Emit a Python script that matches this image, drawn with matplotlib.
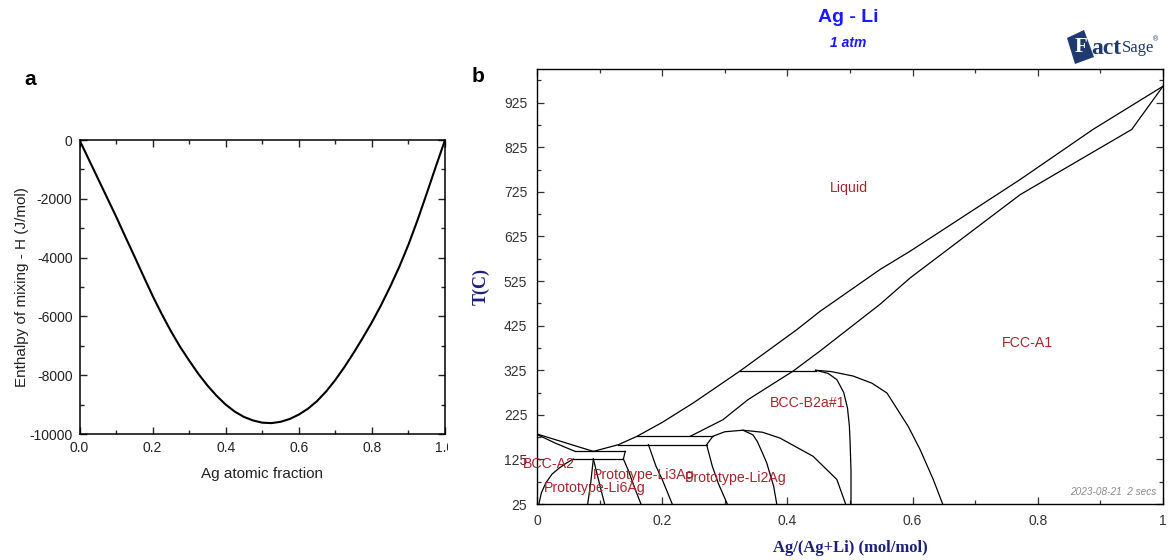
import matplotlib
matplotlib.use("Agg")
import matplotlib.pyplot as plt
from matplotlib.ticker import MultipleLocator, FixedLocator
from matplotlib.patches import Polygon
from matplotlib.transforms import Bbox, TransformedBbox

plt.rcParams['font.family'] = ['Liberation Sans', 'DejaVu Sans']
plt.rcParams['axes.unicode_minus'] = False

# ---------------- panel a : enthalpy of mixing ----------------
h_x = [0.0, 0.025, 0.05, 0.075, 0.10, 0.125, 0.15, 0.175, 0.20, 0.225, 0.25, 0.275,
       0.30, 0.325, 0.35, 0.375, 0.40, 0.425, 0.45, 0.475, 0.50, 0.525, 0.55, 0.575,
       0.60, 0.625, 0.65, 0.675, 0.70, 0.725, 0.75, 0.775, 0.80, 0.825, 0.85, 0.875,
       0.90, 0.925, 0.95, 0.975, 1.0]
h_y = [0, -650, -1300, -1950, -2600, -3280, -3950, -4630, -5300, -5920, -6500, -7030,
       -7500, -7950, -8350, -8700, -9000, -9240, -9420, -9540, -9615, -9630, -9585, -9490,
       -9340, -9140, -8880, -8550, -8160, -7720, -7240, -6730, -6200, -5620, -4990, -4310,
       -3560, -2720, -1820, -900, 0]

# ---------------- panel b : Ag-Li phase diagram ----------------
liq_li_x = [0.0, 0.03, 0.06, 0.09]
liq_li_T = [182, 169, 156, 143]
bcc_sol_x = [0.0, 0.03, 0.061]
bcc_sol_T = [181, 161, 143]
bcc_solv_x = [0.058, 0.046, 0.034, 0.024, 0.014, 0.007, 0.003]
bcc_solv_T = [126, 116, 104, 92, 72, 50, 25]
liq_x = [0.09, 0.13, 0.16, 0.20, 0.25, 0.324, 0.415, 0.452, 0.548, 0.596, 0.772, 0.888, 1.0]
liq_T = [143, 158, 177, 208, 252, 323, 416, 457, 551, 592, 753, 865, 962]
sol_x = [0.245, 0.297, 0.337, 0.409, 0.452, 0.548, 0.596, 0.772, 0.878, 0.95, 1.0]
sol_T = [177, 214, 259, 323, 368, 473, 532, 719, 806, 865, 962]
inv_x0 = [0.061, 0.058, 0.13, 0.16, 0.324]
inv_x1 = [0.141, 0.138, 0.271, 0.281, 0.445]
inv_T = [143, 126, 158, 177, 323]
conn_x = [0.141, 0.138]
conn_T = [143, 126]
li6_l_x = [0.09, 0.086, 0.081]
li6_l_T = [126, 75, 25]
li6_r_x = [0.09, 0.099, 0.108]
li6_r_T = [126, 75, 25]
li3_l_x = [0.138, 0.146, 0.155, 0.166]
li3_l_T = [126, 100, 65, 25]
li3_r_x = [0.178, 0.19, 0.20, 0.216]
li3_r_T = [158, 110, 80, 25]
li2_l_x = [0.271, 0.28, 0.29, 0.304]
li2_l_T = [158, 110, 70, 25]
li2_out_x = [0.271, 0.281, 0.30, 0.329, 0.36, 0.388, 0.441, 0.479, 0.493]
li2_out_T = [158, 177, 187, 190.5, 186, 173, 132, 80, 25]
li2_in_x = [0.329, 0.345, 0.352, 0.36, 0.367, 0.378, 0.383]
li2_in_T = [190.5, 180, 165, 140, 117, 65, 25]
b2_out_x = [0.445, 0.47, 0.505, 0.535, 0.559, 0.593, 0.612, 0.633, 0.648]
b2_out_T = [325, 322, 312, 296, 274, 199, 147, 80, 25]
b2_in_x = [0.445, 0.465, 0.479, 0.49, 0.496, 0.499, 0.50, 0.5016, 0.5016]
b2_in_T = [325, 318, 304, 275, 240, 200, 169, 100, 25]

labels = ["Liquid", "FCC-A1", "BCC-B2a#1", "BCC-A2", "Prototype-Li6Ag",
          "Prototype-Li3Ag", "Prototype-Li2Ag"]
label_x = [0.498, 0.784, 0.432, 0.0192, 0.092, 0.171, 0.318]
label_T = [733, 386, 252, 114, 61, 89, 84]

x_ticks_b = [0, 0.2, 0.4, 0.6, 0.8, 1]
x_ticklabels_b = ["0", "0.2", "0.4", "0.6", "0.8", "1"]
y_ticks_b = [25, 125, 225, 325, 425, 525, 625, 725, 825, 925]

W, H = 1168, 560
fig = plt.figure(figsize=(W / 100, H / 100), dpi=100)

def fx(px):
    return px / W

def fy(py):
    return 1 - py / H

serif = ['Liberation Serif', 'DejaVu Serif']

# ---- panel a ----
axa = fig.add_axes([fx(79.5), fy(434), fx(445) - fx(79.5), fy(140) - fy(434)])
axa.plot(h_x, h_y, color='black', lw=1.5)
axa.set_xlim(0, 1)
axa.set_ylim(-10000, 0)
axa.xaxis.set_minor_locator(MultipleLocator(0.1))
axa.yaxis.set_major_locator(MultipleLocator(2000))
axa.yaxis.set_minor_locator(MultipleLocator(1000))
axa.set_xticks([0, 0.2, 0.4, 0.6, 0.8, 1.0])
axa.set_xticklabels(["0.0", "0.2", "0.4", "0.6", "0.8", "1.0"])
axa.tick_params(which='both', direction='in', top=True, right=True,
                labelsize=10, colors='#222222', width=1)
axa.tick_params(which='major', length=5, pad=5)
axa.tick_params(which='minor', length=3)
for s in axa.spines.values():
    s.set_linewidth(1.1)
axa.set_xlabel("Ag atomic fraction", fontsize=11, labelpad=9, color='#222222')
axa.set_ylabel("Enthalpy of mixing - H (J/mol)", fontsize=11, labelpad=0, color='#222222')
clipbox = TransformedBbox(Bbox([[0, 0], [448 / W, 1]]), fig.transFigure)
for lab in axa.get_xticklabels():
    if lab.get_text() == "1.0":
        lab.set_clip_box(clipbox)
        lab.set_clip_on(True)
fig.text(fx(30), fy(80), "a", fontsize=15, fontweight='bold', ha='center', va='center')

# ---- panel b ----
axb = fig.add_axes([fx(537), fy(504), fx(1163) - fx(537), fy(69.3) - fy(504)])
lc = 'black'
lw = 0.9
series = [(liq_li_x, liq_li_T), (bcc_sol_x, bcc_sol_T), (bcc_solv_x, bcc_solv_T),
          (liq_x, liq_T), (sol_x, sol_T), (conn_x, conn_T),
          (li6_l_x, li6_l_T), (li6_r_x, li6_r_T), (li3_l_x, li3_l_T), (li3_r_x, li3_r_T),
          (li2_l_x, li2_l_T), (li2_out_x, li2_out_T), (li2_in_x, li2_in_T),
          (b2_out_x, b2_out_T), (b2_in_x, b2_in_T)]
for xs, ts in series:
    axb.plot(xs, ts, color=lc, lw=lw)
for x0, x1, t in zip(inv_x0, inv_x1, inv_T):
    axb.plot([x0, x1], [t, t], color=lc, lw=lw)

for txt, x, t in zip(labels, label_x, label_T):
    axb.text(x, t, txt, color='#a3262a', fontsize=10.2, ha='center', va='center')

axb.set_xlim(0, 1)
axb.set_ylim(25, 1000)
axb.set_xticks(x_ticks_b)
axb.set_xticklabels(x_ticklabels_b)
axb.xaxis.set_minor_locator(MultipleLocator(0.1))
axb.set_yticks(y_ticks_b)
axb.yaxis.set_minor_locator(FixedLocator([75 + 100 * i for i in range(10)]))
axb.tick_params(which='both', direction='in', top=True, right=True,
                labelsize=10, colors='#333333', width=0.9)
axb.tick_params(which='major', length=5, pad=7)
axb.tick_params(which='minor', length=3)
for s in axb.spines.values():
    s.set_linewidth(1.0)
axb.set_xlabel("Ag/(Ag+Li) (mol/mol)", fontsize=12, fontweight='bold',
               family=serif, color='#1b1f78', labelpad=9)
axb.set_ylabel("T(C)", fontsize=13, fontweight='bold',
               family=serif, color='#1b1f78', labelpad=10)
axb.text(0.99, 51, "2023-08-21  2 secs", fontsize=7.2, style='italic', color='#8a8a8a',
         ha='right', va='center')

fig.text(fx(478), fy(77), "b", fontsize=15, fontweight='bold', ha='center', va='center')
fig.text(fx(848), fy(17), "Ag - Li", fontsize=14, fontweight='bold', color='#1a1aff',
         ha='center', va='center')
fig.text(fx(848), fy(43), "1 atm", fontsize=10, style='italic', fontweight='bold',
         color='#1a1aff', ha='center', va='center')

# FactSage logo (approximation)
logo_c = '#1f3a6e'
poly = Polygon([(fx(1067), fy(38)), (fx(1084), fy(30)), (fx(1094), fy(57)), (fx(1075), fy(64))],
               closed=True, transform=fig.transFigure, facecolor=logo_c, edgecolor='none')
fig.patches.append(poly)
fig.text(fx(1081), fy(47), "F", fontsize=15, fontweight='bold', color='white',
         family=serif, ha='center', va='center')
fig.text(fx(1091), fy(48), "act", fontsize=17, fontweight='bold', color=logo_c,
         family=serif, ha='left', va='center')
fig.text(fx(1122), fy(48), "Sage", fontsize=12, color=logo_c,
         family=serif, ha='left', va='center')
fig.text(fx(1153), fy(40), "\u00ae", fontsize=5, color=logo_c, ha='left', va='center')

fig.savefig("out.png", dpi=100)
